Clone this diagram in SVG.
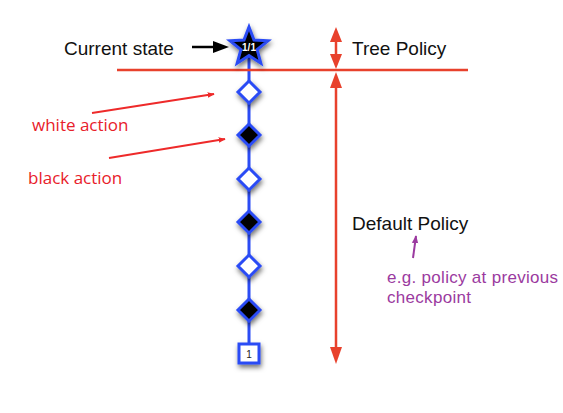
<svg xmlns="http://www.w3.org/2000/svg" width="563" height="413" viewBox="0 0 563 413">
<defs>
<style>
.lbl{font-family:"Liberation Sans",Arial,sans-serif;font-size:19px;fill:#111}
.red{font-family:"Open Sans","Noto Sans",sans-serif;font-size:17px;fill:#e8202a}
.pur{font-family:"Liberation Sans",Arial,sans-serif;font-size:17px;letter-spacing:0.3px;fill:#9b3aa0}
.node{stroke:#2b4cf5;stroke-width:3;filter:url(#sh)}
.w{fill:#fff}
.b{fill:#000}
.redl{stroke:#e8412c;stroke-width:2.5;fill:none}
.ra{stroke:#ee2a2a;stroke-width:2;fill:none}
</style>
<filter id="sh" x="-50%" y="-50%" width="200%" height="200%">
<feDropShadow dx="1" dy="3" stdDeviation="2.5" flood-color="#000" flood-opacity="0.55"/>
</filter>
<marker id="rh" viewBox="0 0 10 10" refX="9" refY="5" markerWidth="7" markerHeight="7" orient="auto" markerUnits="userSpaceOnUse">
<path d="M0,1 L10,5 L0,9 z" fill="#ee2a2a"/>
</marker>
<marker id="ph" viewBox="0 0 10 10" refX="9" refY="5" markerWidth="8" markerHeight="8" orient="auto" markerUnits="userSpaceOnUse">
<path d="M0,1 L10,5 L0,9 z" fill="#9b3aa0"/>
</marker>
</defs>

<g id="connectors">
<line x1="249" y1="50" x2="249" y2="350" stroke="#2b4cf5" stroke-width="3"/>
<line x1="117" y1="70" x2="468" y2="70" class="redl"/>
<line x1="336" y1="40" x2="336" y2="56" class="redl"/>
<path d="M336,27 L342,42 L330,42 z" fill="#e8412c"/>
<path d="M336,69 L342,54 L330,54 z" fill="#e8412c"/>
<line x1="336" y1="86" x2="336" y2="350" class="redl"/>
<path d="M336,72 L342,88 L330,88 z" fill="#e8412c"/>
<path d="M336,364 L342,347 L330,347 z" fill="#e8412c"/>
<line x1="192" y1="47" x2="216" y2="47" stroke="#000" stroke-width="2.5"/>
<path d="M229,47 L213,41 L213,53 z" fill="#000"/>
<line x1="92" y1="113" x2="214" y2="94" class="ra" marker-end="url(#rh)"/>
<line x1="109" y1="158" x2="225" y2="139" class="ra" marker-end="url(#rh)"/>
<line x1="413" y1="258" x2="416" y2="236" stroke="#9b3aa0" stroke-width="2" marker-end="url(#ph)"/>
</g>

<g id="star">
<path class="node b" d="M249,27 L254,40.1 L268,40.8 L257.1,49.6 L260.8,63.2 L249,55.5 L237.2,63.2 L240.9,49.6 L230,40.8 L244,40.1 z"/>
<text x="249" y="51" text-anchor="middle" font-family="Liberation Sans,Arial,sans-serif" font-size="10" font-weight="bold" fill="#fff">1/1</text>
</g>
<g id="d1"><path class="node w" d="M249,81 L260,92 L249,103 L238,92 z"/></g>
<g id="d2"><path class="node b" d="M249,124 L260,135 L249,146 L238,135 z"/></g>
<g id="d3"><path class="node w" d="M249,168 L260,179 L249,190 L238,179 z"/></g>
<g id="d4"><path class="node b" d="M249,211 L260,222 L249,233 L238,222 z"/></g>
<g id="d5"><path class="node w" d="M249,255 L260,266 L249,277 L238,266 z"/></g>
<g id="d6"><path class="node b" d="M249,299 L260,310 L249,321 L238,310 z"/></g>
<g id="leaf">
<rect class="node w" x="239" y="344" width="20" height="19"/>
<text x="249" y="358" text-anchor="middle" font-family="Liberation Sans,Arial,sans-serif" font-size="10" fill="#222">1</text>
</g>

<g id="labels">
<text class="lbl" x="64" y="55" font-size="20">Current state</text>
<text class="lbl" x="352" y="55">Tree Policy</text>
<text class="lbl" x="352" y="230">Default Policy</text>
<text class="red" x="32" y="131">white action</text>
<text class="red" x="28" y="184">black action</text>
<text class="pur" x="387" y="283">e.g. policy at previous</text>
<text class="pur" x="387" y="303">checkpoint</text>
</g>
</svg>
